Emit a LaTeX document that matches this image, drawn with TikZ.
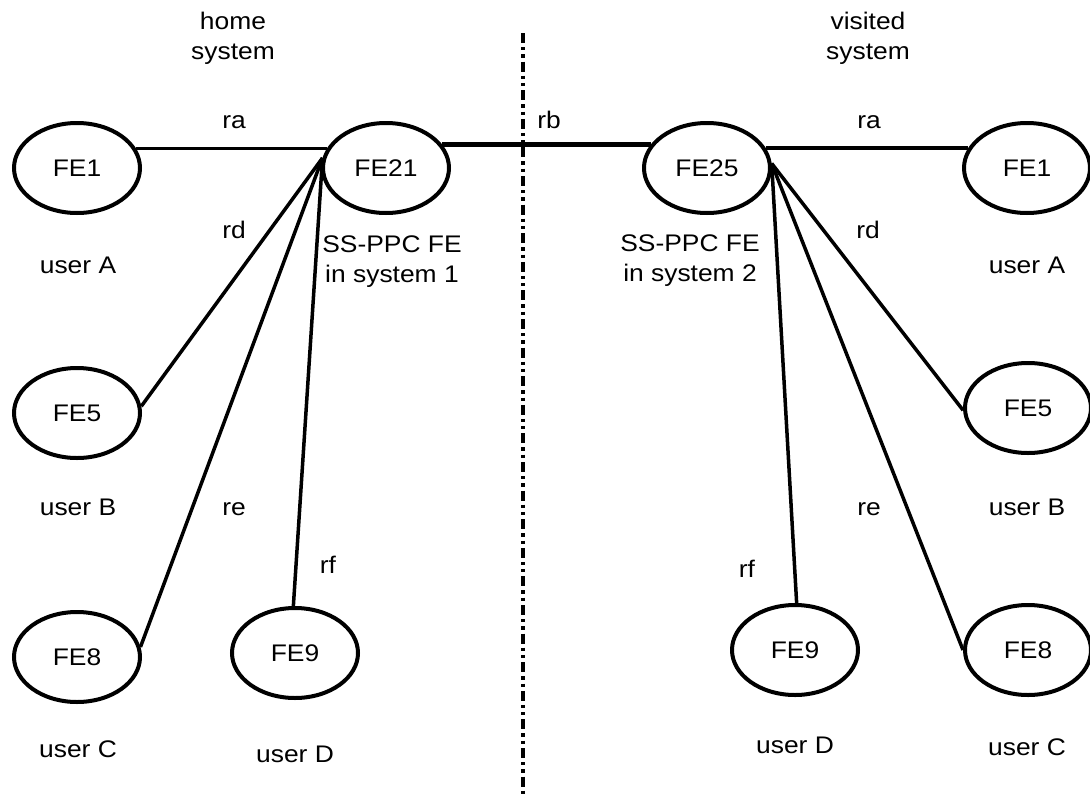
\documentclass[tikz,border=0pt]{standalone}
\usepackage{fontspec}
\setmainfont{Liberation Sans}[FakeStretch=1.1]
\usetikzlibrary{shapes.geometric}

\begin{document}
\begin{tikzpicture}
  [
      x=1pt, y=-1pt,
      fe/.style={ellipse, draw, line width=4pt, minimum width=126pt, minimum height=90pt, inner sep=0pt, font=\fontsize{24}{29}\selectfont},
      lbl/.style={inner sep=0pt, anchor=base, font=\fontsize{24}{29}\selectfont},
      twoline/.style={inner sep=0pt, align=center, font=\fontsize{24}{30}\selectfont},
      link/.style={line width=3.5pt},
      boundary/.style={line width=4pt, dash pattern=on 10pt off 4pt on 3.3pt off 4pt on 3.3pt off 4pt},
    ]
    \useasboundingbox (0,0) rectangle (1090,798);

    % home system
    \node (fe1)  [fe] at (77,168) {FE1};
    \node (fe21) [fe] at (386,168) {FE21};
    \node (fe5)  [fe] at (77,413) {FE5};
    \node (fe8)  [fe] at (77,657) {FE8};
    \node (fe9)  [fe] at (295,653) {FE9};

    % visited system
    \node (fe25) [fe] at (707,168) {FE25};
    \node (fe1r) [fe] at (1027,168) {FE1};
    \node (fe5r) [fe] at (1028,408) {FE5};
    \node (fe8r) [fe] at (1028,650) {FE8};
    \node (fe9r) [fe] at (795,650) {FE9};

    \coordinate (top) at (522.5,33);
    \coordinate (bottom) at (522.5,800);
    \draw [boundary] (top) -- (bottom);

    \draw [link] (fe1.18) -- (fe21.162);
    \draw [link, line width=5pt] (fe21.23) -- (fe25.157);
    \draw [link] (fe25.19) -- (fe1r.161);
    \foreach \j in {fe5.6, fe8.9, fe9.92}
      \draw [link] (fe21.171) -- (\j);
    \foreach \j in {fe5r.182, fe8r.west, fe9r.88}
      \draw [link] (fe25.4) -- (\j);

    \node (home)    [twoline] at (233,38) {home\\system};
    \node (visited) [twoline] at (868,38) {visited\\system};
    \node (ppc1) [twoline, anchor=north] at (392,236) {SS-PPC FE\\in system 1};
    \node (ppc2) [twoline, anchor=north] at (690,235) {SS-PPC FE\\in system 2};

    \node (ra)  [lbl] at (234,128) {ra};
    \node (rb)  [lbl] at (549,128) {rb};
    \node (rar) [lbl] at (869,128) {ra};
    \node (rd)  [lbl] at (234,238) {rd};
    \node (rdr) [lbl] at (868,238) {rd};
    \node (re)  [lbl] at (234,515) {re};
    \node (rer) [lbl] at (869,515) {re};
    \node (rf)  [lbl] at (328,573) {rf};
    \node (rfr) [lbl] at (747,577) {rf};

    \node (ua)  [lbl] at (78,273) {user A};
    \node (uar) [lbl] at (1027,273) {user A};
    \node (ub)  [lbl] at (78,515) {user B};
    \node (ubr) [lbl] at (1027,515) {user B};
    \node (uc)  [lbl] at (78,757) {user C};
    \node (ucr) [lbl] at (1027,755) {user C};
    \node (ud)  [lbl] at (295,762) {user D};
    \node (udr) [lbl] at (795,753) {user D};
  \end{tikzpicture}
\end{document}
